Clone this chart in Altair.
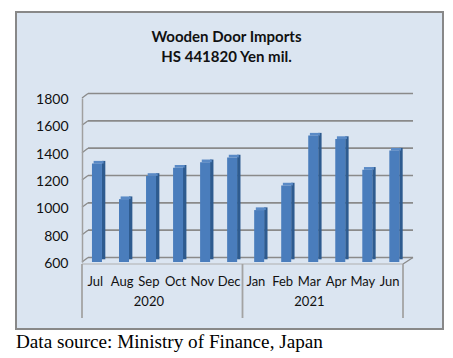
import altair as alt
import pandas as pd

months = ["Jul", "Aug", "Sep", "Oct", "Nov", "Dec", "Jan", "Feb", "Mar", "Apr", "May", "Jun"]
values = [1320, 1060, 1230, 1290, 1330, 1365, 980, 1160, 1525, 1500, 1275, 1415]
years = ["2020", "2021"]
year_mid_month = ["Sep", "Mar"]  # year label sits at the right edge of this month
y_ticks = [600, 800, 1000, 1200, 1400, 1600, 1800]
title_line1 = "Wooden Door Imports"
title_line2 = "HS 441820  Yen mil."
source_note = "Data source: Ministry of Finance, Japan"

W, H = 321, 164
FONT = "Lato"
GRID = "#8a8a8a"
SEP = "#a3a3a3"

bars_df = pd.DataFrame({"m": months, "v": values})
grid_df = pd.DataFrame({"v": y_ticks})
one = pd.DataFrame({"a": [0]})

yscale = alt.Scale(domain=[600, 1800], nice=False, zero=False)
yaxis = alt.Axis(
    values=y_ticks, format="d", grid=False, ticks=False, domain=True, domainColor="#a0a0a0",
    domainWidth=1.5, labelFont=FONT, labelFontSize=14, labelPadding=14,
    labelOffset=1.5, labelColor="#111111", title=None, zindex=1)
by = alt.Y("v:Q", scale=yscale, axis=yaxis)


def xm(bp=0.5, axis=None):
    kw = {}
    if bp != 0.5:
        kw["bandPosition"] = bp
    return alt.X("m:N", scale=alt.Scale(domain=months, paddingInner=0, paddingOuter=0),
                 axis=axis, **kw)


bg = alt.Chart(one).mark_rect(fill="#dbe5f1", stroke="#888888", strokeWidth=2).encode(
    x=alt.value(-66), x2=alt.value(361), y=alt.value(-86), y2=alt.value(231)
)

grid = alt.Chart(grid_df).mark_rule(color=GRID, strokeWidth=1.6, yOffset=-4.5, y2Offset=-4.5).encode(
    y=by, y2="v:Q", x=alt.value(6), x2=alt.value(331)
)

corners = alt.Chart(grid_df).mark_rule(color=GRID, strokeWidth=1.3, yOffset=0, y2Offset=-4.5).encode(
    y=by, y2="v:Q", x=alt.value(0), x2=alt.value(6)
)

floor_front = alt.Chart(one).mark_rule(color="#b0b0b0", strokeWidth=1.2).encode(
    x=alt.value(0), x2=alt.value(W), y=alt.value(H + 2), y2=alt.value(H + 2)
)
floor_right = alt.Chart(one).mark_rule(color=GRID, strokeWidth=1.3).encode(
    x=alt.value(W), x2=alt.value(W + 10), y=alt.value(H + 2), y2=alt.value(H - 4.5)
)

sep_left = alt.Chart(pd.DataFrame({"m": ["Jul", "Jan"]})).mark_rule(color=SEP, strokeWidth=1.8).encode(
    x=xm(0, axis=alt.Axis(labelFont=FONT, labelFontSize=13, labelAngle=0, labelPadding=13,
                          ticks=False, domain=False, labelColor="#111111", title=None, zindex=1)),
    y=alt.value(H + 2), y2=alt.value(H + 56)
)
sep_right = alt.Chart(pd.DataFrame({"m": ["Jun"]})).mark_rule(color=SEP, strokeWidth=1.8).encode(
    x=xm(1), y=alt.value(H + 2), y2=alt.value(H + 56)
)

year_text = alt.Chart(pd.DataFrame({"m": year_mid_month, "yr": years})).mark_text(
    font=FONT, fontSize=13, color="#111111", baseline="middle"
).encode(x=xm(1), y=alt.value(H + 39.5), text="yr:N")

bx = alt.X("m:N", scale=alt.Scale(domain=months, range=[3.1, 327.5], paddingInner=0, paddingOuter=0),
           axis=None)

side = alt.Chart(bars_df).mark_bar(color="#2e5b8f", size=3.4, xOffset=5, yOffset=-2.7, y2Offset=-2.7).encode(
    x=bx, y=by, y2=alt.datum(600)
)
top = alt.Chart(bars_df).mark_bar(color="#5a8ac6", size=10, xOffset=0, y2Offset=-2.7).encode(
    x=bx, y=by, y2="v:Q"
)
front = alt.Chart(bars_df).mark_bar(color="#4a7dbc", size=10, xOffset=-1.65).encode(
    x=bx, y=by, y2=alt.datum(600)
)

tstyle = dict(font=FONT, fontSize=15, fontWeight="bold", color="#111111", align="center", baseline="middle")
t1 = alt.Chart(pd.DataFrame({"t": [title_line1]})).mark_text(**tstyle).encode(
    x=alt.value(226.5 - 82), y=alt.value(37 - 98), text="t:N")
t2 = alt.Chart(pd.DataFrame({"t": [title_line2]})).mark_text(**tstyle).encode(
    x=alt.value(226.5 - 82), y=alt.value(56.5 - 98), text="t:N")

note = alt.Chart(pd.DataFrame({"t": [source_note]})).mark_text(
    font="Liberation Serif", fontSize=19.2, color="#000000", align="left", baseline="alphabetic"
).encode(x=alt.value(-66), y=alt.value(249.5), text="t:N")

chart = alt.layer(
    bg, grid, corners, floor_front, floor_right, sep_left, sep_right, year_text, side, top, front, t1, t2, note
).resolve_scale(x="independent").properties(
    width=W, height=H,
    autosize=alt.AutoSizeParams(type="none"),
    padding={"left": 82, "top": 98, "right": 453 - 82 - W, "bottom": 358 - 98 - H},
    background="white",
).configure_view(stroke=None)

chart.save("out.html", embed_options={"renderer": "svg", "actions": False})
